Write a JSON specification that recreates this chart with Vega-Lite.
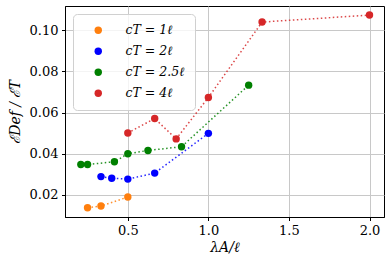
{
  "$schema": "https://vega.github.io/schema/vega-lite/v6.json",
  "width": 319,
  "height": 211,
  "autosize": {"type": "none"},
  "padding": {"left": 65, "top": 6, "right": 7, "bottom": 50},
  "background": "white",
  "config": {
    "view": {"stroke": "black", "strokeWidth": 1},
    "font": "DejaVu Serif",
    "axis": {
      "labelFont": "DejaVu Serif",
      "labelFontSize": 13,
      "labelColor": "black",
      "titleFont": "DejaVu Serif",
      "titleFontSize": 14,
      "titleFontWeight": "normal",
      "titleColor": "black",
      "domainColor": "black",
      "domainWidth": 1,
      "tickColor": "black",
      "tickSize": 3.5,
      "tickWidth": 1,
      "labelPadding": 3.5,
      "gridColor": "#c8c8c8",
      "gridWidth": 1
    },
    "legend": {
      "title": null,
      "orient": "none",
      "legendX": 8,
      "legendY": 8,
      "padding": 10,
      "fillColor": "rgba(255,255,255,0.8)",
      "strokeColor": "#d0d0d0",
      "cornerRadius": 4,
      "symbolType": "circle",
      "symbolSize": 55,
      "symbolOpacity": 1,
      "symbolOffset": 9,
      "symbolStrokeWidth": 0,
      "labelFont": "DejaVu Serif",
      "labelFontStyle": "italic",
      "labelFontSize": 12.5,
      "labelColor": "black",
      "labelOffset": 21,
      "rowPadding": 8
    }
  },
  "data": {
    "values": [
      {"x": 0.25, "y": 0.0138, "s": "cT = 1ℓ"},
      {"x": 0.3333, "y": 0.0146, "s": "cT = 1ℓ"},
      {"x": 0.5, "y": 0.019, "s": "cT = 1ℓ"},
      {"x": 0.3333, "y": 0.0289, "s": "cT = 2ℓ"},
      {"x": 0.4, "y": 0.0281, "s": "cT = 2ℓ"},
      {"x": 0.5, "y": 0.0277, "s": "cT = 2ℓ"},
      {"x": 0.6667, "y": 0.0306, "s": "cT = 2ℓ"},
      {"x": 1.0, "y": 0.0499, "s": "cT = 2ℓ"},
      {"x": 0.2083, "y": 0.0348, "s": "cT = 2.5ℓ"},
      {"x": 0.25, "y": 0.0348, "s": "cT = 2.5ℓ"},
      {"x": 0.4167, "y": 0.0361, "s": "cT = 2.5ℓ"},
      {"x": 0.5, "y": 0.040, "s": "cT = 2.5ℓ"},
      {"x": 0.625, "y": 0.0416, "s": "cT = 2.5ℓ"},
      {"x": 0.8333, "y": 0.0434, "s": "cT = 2.5ℓ"},
      {"x": 1.25, "y": 0.0733, "s": "cT = 2.5ℓ"},
      {"x": 0.5, "y": 0.0501, "s": "cT = 4ℓ"},
      {"x": 0.6667, "y": 0.0571, "s": "cT = 4ℓ"},
      {"x": 0.8, "y": 0.0472, "s": "cT = 4ℓ"},
      {"x": 1.0, "y": 0.0673, "s": "cT = 4ℓ"},
      {"x": 1.3333, "y": 0.1039, "s": "cT = 4ℓ"},
      {"x": 2.0, "y": 0.1073, "s": "cT = 4ℓ"}
    ]
  },
  "encoding": {
    "x": {
      "field": "x", "type": "quantitative",
      "scale": {"domain": [0.11, 2.09], "nice": false, "zero": false},
      "axis": {"values": [0.5, 1.0, 1.5, 2.0], "format": ".1f", "title": "λA/ℓ", "titleFontStyle": "italic", "titlePadding": 3}
    },
    "y": {
      "field": "y", "type": "quantitative",
      "scale": {"domain": [0.0093, 0.1117], "nice": false, "zero": false},
      "axis": {"values": [0.02, 0.04, 0.06, 0.08, 0.10], "format": ".2f", "title": "ℰDef / ℰT", "titleFontStyle": "italic", "titlePadding": 7}
    },
    "color": {
      "field": "s", "type": "nominal",
      "scale": {"domain": ["cT = 1ℓ", "cT = 2ℓ", "cT = 2.5ℓ", "cT = 4ℓ"], "range": ["#ff7f0e", "#0000ff", "#008000", "#d62728"]}
    }
  },
  "layer": [
    {
      "mark": {"type": "line", "strokeDash": [1.5, 2.5], "strokeWidth": 1.5, "opacity": 0.85}
    },
    {
      "mark": {"type": "point", "shape": "circle", "filled": true, "size": 55, "opacity": 1}
    }
  ]
}
